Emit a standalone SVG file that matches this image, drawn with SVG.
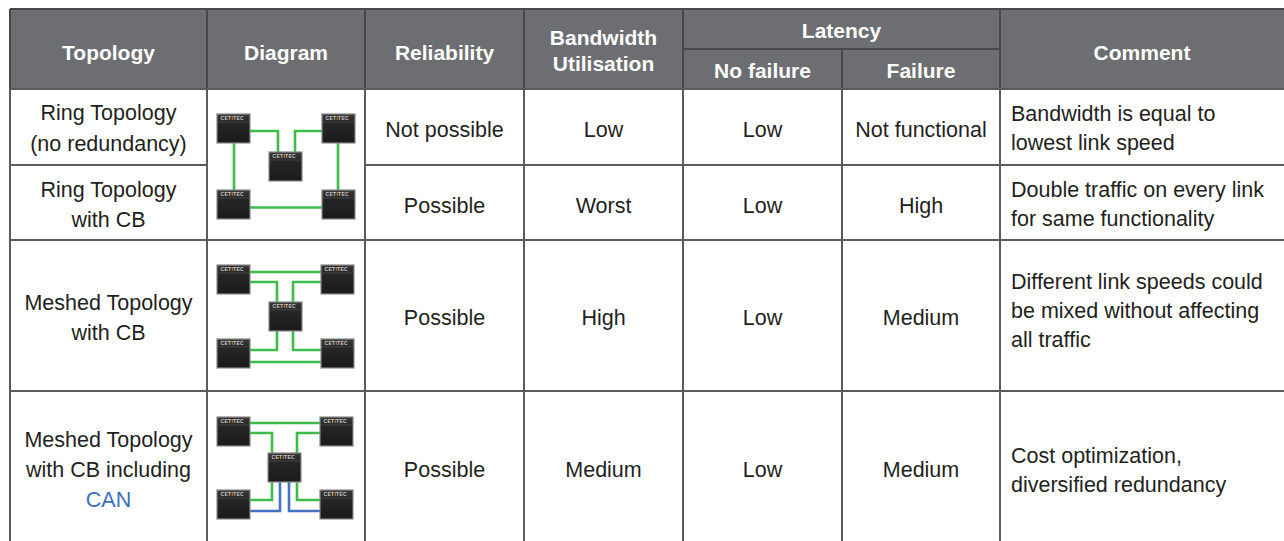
<svg xmlns="http://www.w3.org/2000/svg" width="1284" height="541" viewBox="0 0 1284 541">
<style>
.h{font-family:"Liberation Sans",Arial,sans-serif;font-weight:bold;font-size:21px;fill:#ffffff;text-anchor:middle}
.t{font-family:"Liberation Sans",Arial,sans-serif;font-size:21.5px;fill:#231f20;text-anchor:middle}
.c{font-family:"Liberation Sans",Arial,sans-serif;font-size:21.5px;fill:#231f20;text-anchor:start}
.can{fill:#3d6fc0}
.grid{stroke:#5c5c5e;stroke-width:2;fill:none}
.hgrid{stroke:#48484a;stroke-width:2;fill:none}
.g{stroke:#3dbb4b;stroke-width:2.6;fill:none}
.b{stroke:#4672c4;stroke-width:2.6;fill:none}
.logo{font-family:"Liberation Sans",Arial,sans-serif;font-weight:bold;font-size:5px;fill:#c8c8c8;letter-spacing:0.3px}
</style>
<defs>
<linearGradient id="devg" x1="0" y1="0" x2="0" y2="1">
<stop offset="0" stop-color="#3a3a3a"/>
<stop offset="0.3" stop-color="#262626"/>
<stop offset="1" stop-color="#1a1a1a"/>
</linearGradient>
<g id="dev">
<rect x="0" y="0" width="33" height="29" fill="url(#devg)" stroke="#8a8a8a" stroke-width="1.2"/>
<line x1="1" y1="8" x2="32" y2="8" stroke="#4a4a4a" stroke-width="0.8"/>
<text class="logo" x="3.5" y="6">CET<tspan fill="#e0962e">I</tspan>TEC</text>
</g>
</defs>

<rect x="0" y="0" width="1284" height="541" fill="#ffffff"/>

<g id="header">
<rect x="10" y="9" width="1280" height="80" fill="#6d6e71"/>
<path class="hgrid" d="M10,9 H1290 M10,9 V89 M207,9 V89 M365,9 V89 M524,9 V89 M683,9 V89 M1000,9 V89 M683,49 H1000 M842,49 V89"/>
<text class="h" x="108.5" y="60">Topology</text>
<text class="h" x="286" y="60">Diagram</text>
<text class="h" x="444.5" y="60">Reliability</text>
<text class="h" x="603.5" y="45">Bandwidth</text>
<text class="h" x="603.5" y="71">Utilisation</text>
<text class="h" x="841.5" y="38">Latency</text>
<text class="h" x="762.5" y="77.5">No failure</text>
<text class="h" x="921" y="77.5">Failure</text>
<text class="h" x="1142" y="60">Comment</text>
</g>

<g id="grid">
<path class="grid" d="M10,89 H1290 M10,165 H207 M365,165 H1290 M10,240 H1290 M10,391 H1290 M10,89 V541 M207,89 V541 M365,89 V541 M524,89 V541 M683,89 V541 M842,89 V541 M1000,89 V541"/>
</g>

<g id="row-ring">
<text class="t" x="108.5" y="120">Ring Topology</text>
<text class="t" x="108.5" y="151">(no redundancy)</text>
<text class="t" x="444.5" y="137">Not possible</text>
<text class="t" x="603.5" y="137">Low</text>
<text class="t" x="762.5" y="137">Low</text>
<text class="t" x="921" y="137">Not functional</text>
<text class="c" x="1011" y="121">Bandwidth is equal to</text>
<text class="c" x="1011" y="150">lowest link speed</text>
</g>

<g id="row-ring-cb">
<text class="t" x="108.5" y="197">Ring Topology</text>
<text class="t" x="108.5" y="227">with CB</text>
<text class="t" x="444.5" y="212.5">Possible</text>
<text class="t" x="603.5" y="212.5">Worst</text>
<text class="t" x="762.5" y="212.5">Low</text>
<text class="t" x="921" y="212.5">High</text>
<text class="c" x="1011" y="197">Double traffic on every link</text>
<text class="c" x="1011" y="226">for same functionality</text>
</g>

<g id="row-meshed-cb">
<text class="t" x="108.5" y="310">Meshed Topology</text>
<text class="t" x="108.5" y="340">with CB</text>
<text class="t" x="444.5" y="325">Possible</text>
<text class="t" x="603.5" y="325">High</text>
<text class="t" x="762.5" y="325">Low</text>
<text class="t" x="921" y="325">Medium</text>
<text class="c" x="1011" y="289">Different link speeds could</text>
<text class="c" x="1011" y="318">be mixed without affecting</text>
<text class="c" x="1011" y="347">all traffic</text>
</g>

<g id="row-meshed-can">
<text class="t" x="108.5" y="447">Meshed Topology</text>
<text class="t" x="108.5" y="477">with CB including</text>
<text class="t can" x="108.5" y="507">CAN</text>
<text class="t" x="444.5" y="476.5">Possible</text>
<text class="t" x="603.5" y="476.5">Medium</text>
<text class="t" x="762.5" y="476.5">Low</text>
<text class="t" x="921" y="476.5">Medium</text>
<text class="c" x="1011" y="463">Cost optimization,</text>
<text class="c" x="1011" y="492">diversified redundancy</text>
</g>

<g id="connectors">
<path class="g" d="M250,131 H278 V152"/>
<path class="g" d="M322,131 H295 V152"/>
<path class="g" d="M234,143 V190"/>
<path class="g" d="M338,143 V190"/>
<path class="g" d="M250,207.5 H322"/>

<path class="g" d="M250,272 H321"/>
<path class="g" d="M250,282 H277 V302"/>
<path class="g" d="M321,282 H293 V302"/>
<path class="g" d="M277,331 V350 H250"/>
<path class="g" d="M293,331 V350 H321"/>
<path class="g" d="M250,362 H321"/>

<path class="g" d="M250,423 H320"/>
<path class="g" d="M250,433 H272 V453"/>
<path class="g" d="M320,433 H297 V453"/>
<path class="g" d="M272,482 V500 H250"/>
<path class="g" d="M297,482 V500 H320"/>
<path class="b" d="M280,482 V511 H250"/>
<path class="b" d="M289,482 V511 H320"/>
</g>

<g id="diagram-ring">
<use href="#dev" x="217" y="114"/>
<use href="#dev" x="322" y="114"/>
<use href="#dev" x="269" y="152"/>
<use href="#dev" x="217" y="190"/>
<use href="#dev" x="322" y="190"/>
</g>

<g id="diagram-meshed">
<use href="#dev" x="217" y="265"/>
<use href="#dev" x="321" y="265"/>
<use href="#dev" x="269" y="302"/>
<use href="#dev" x="217" y="339"/>
<use href="#dev" x="321" y="339"/>
</g>

<g id="diagram-meshed-can">
<use href="#dev" x="217" y="417"/>
<use href="#dev" x="320" y="417"/>
<use href="#dev" x="268" y="453"/>
<use href="#dev" x="217" y="490"/>
<use href="#dev" x="320" y="490"/>
</g>
</svg>
